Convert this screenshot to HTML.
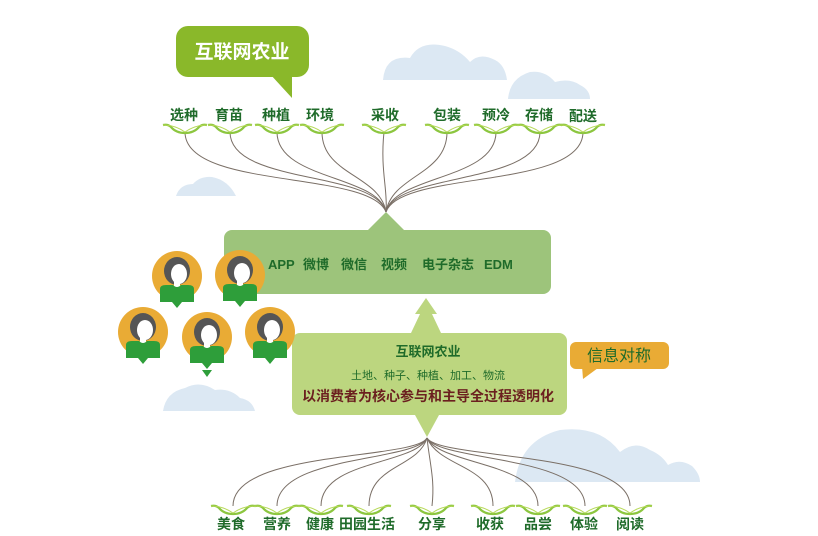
<!DOCTYPE html>
<html><head><meta charset="utf-8"><style>
html,body{margin:0;padding:0;background:#fff;width:818px;height:536px;overflow:hidden}
svg{display:block}
text{font-family:"Liberation Sans","Noto Sans CJK SC",sans-serif}
</style></head><body>
<svg width="818" height="536" viewBox="0 0 818 536" xmlns="http://www.w3.org/2000/svg">
<defs>
<g id="brace"><path d="M-22,-2 q5,-1 8,2 q5,6 14,6 q9,0 14,-6 q3,-3 8,-2" fill="none" stroke="#8cc63f" stroke-width="2.2"/><path d="M-22,-2 q12,0 22,7 q10,-7 22,-7" fill="none" stroke="#b6d957" stroke-width="1"/></g>
<clipPath id="cc"><circle r="25"/></clipPath>
<g id="av">
<circle r="25" fill="#e9ab35"/>
<ellipse cx="0" cy="-5" rx="13" ry="14" fill="#555"/>
<ellipse cx="2" cy="-2" rx="8" ry="10" fill="#fff"/>
<rect x="-3" y="5" width="6" height="7" fill="#fff"/>
<path d="M-17,26 L-17,13 Q-17,9 -11,9 L-4,9 Q0,13 4,9 L11,9 Q17,9 17,13 L17,26 L5,26 L0,32 L-5,26 Z" fill="#2e9e3a"/>
</g>
</defs>
<g fill="#dce8f3">
<path d="M383,80 Q385,55 410,58 Q420,40 445,46 Q460,50 470,62 Q480,52 495,60 Q505,65 507,80 Z"/>
<path d="M508,99 Q510,78 530,72 Q545,70 555,82 Q570,78 580,85 Q590,90 590,99 Z"/>
<path d="M176,196 Q180,184 193,184 Q200,176 212,177 Q228,180 236,196 Z"/>
<path d="M163,411 Q166,392 185,388 Q200,380 215,390 Q230,388 240,398 Q252,400 255,411 Z"/>
<path d="M515,482 Q520,440 560,430 Q600,425 620,452 Q635,440 650,450 Q662,455 668,465 Q680,458 692,466 Q700,474 700,482 Z"/>
</g>
<rect x="176" y="26" width="133" height="51" rx="12" fill="#8ab82a"/>
<path d="M270,74 L292,98 L292,74 Z" fill="#8ab82a"/>
<text x="242" y="58" font-size="19" font-weight="bold" fill="#fff" text-anchor="middle">互联网农业</text>
<g fill="none" stroke="#7a6f66" stroke-width="1">
<path d="M185,132 C185,190 370,170 386,212"/>
<path d="M230,132 C230,185 375,170 386,212"/>
<path d="M277,132 C277,180 378,175 386,212"/>
<path d="M322,132 C322,175 380,175 386,212"/>
<path d="M384,132 C380,170 388,190 386,212"/>
<path d="M447,132 C447,175 392,175 386,212"/>
<path d="M496,132 C496,180 394,175 386,212"/>
<path d="M540,132 C540,185 396,172 386,212"/>
<path d="M583,132 C583,190 400,170 386,212"/>
</g>
<g font-size="14" font-weight="bold" fill="#1f6b2a" text-anchor="middle">
<text x="184" y="120">选种</text><text x="229" y="120">育苗</text><text x="276" y="120">种植</text><text x="320" y="120">环境</text><text x="385" y="120">采收</text><text x="447" y="120">包装</text><text x="496" y="120">预冷</text><text x="539" y="120">存储</text><text x="583" y="121">配送</text>
</g>
<use href="#brace" x="185" y="127"/><use href="#brace" x="230" y="127"/><use href="#brace" x="277" y="127"/><use href="#brace" x="322" y="127"/><use href="#brace" x="384" y="127"/><use href="#brace" x="447" y="127"/><use href="#brace" x="496" y="127"/><use href="#brace" x="540" y="127"/><use href="#brace" x="583" y="127"/>
<path d="M386,212 L368,230 L404,230 Z" fill="#9dc47b"/>
<rect x="224" y="230" width="327" height="64" rx="8" fill="#9dc47b"/>
<g font-size="13" font-weight="bold" fill="#1f6b2a">
<text x="268" y="269">APP</text><text x="303" y="269">微博</text><text x="341" y="269">微信</text><text x="381" y="269">视频</text><text x="422" y="269">电子杂志</text><text x="484" y="269">EDM</text>
</g>
<path d="M426,298 L415,314 L420,314 L411,333 L441,333 L432,314 L437,314 Z" fill="#bcd67f"/>
<rect x="292" y="333" width="275" height="82" rx="8" fill="#bcd67f"/>
<path d="M415,415 L439,415 L427,437 Z" fill="#bcd67f"/>
<text x="428" y="356" font-size="13" font-weight="bold" fill="#1f6b2a" text-anchor="middle">互联网农业</text>
<text x="428" y="379" font-size="11" fill="#1f6b2a" text-anchor="middle">土地、种子、种植、加工、物流</text>
<text x="428" y="401" font-size="14" font-weight="bold" fill="#6b1f1f" text-anchor="middle">以消费者为核心参与和主导全过程透明化</text>
<rect x="570" y="342" width="99" height="27" rx="6" fill="#e9ab35"/>
<path d="M582,366 L583,379 L598,368 Z" fill="#e9ab35"/>
<text x="619" y="361" font-size="16" fill="#1f6b2a" text-anchor="middle">信息对称</text>
<use href="#av" x="177" y="276"/><use href="#av" x="240" y="275"/><use href="#av" x="143" y="332"/><use href="#av" x="207" y="337"/><use href="#av" x="270" y="332"/>
<path d="M202,370 L212,370 L207,377 Z" fill="#2e9e3a"/>
<g fill="none" stroke="#7a6f66" stroke-width="1">
<path d="M427,438 C415,460 233,450 233,506"/>
<path d="M427,438 C415,462 277,455 277,506"/>
<path d="M427,438 C415,465 321,460 321,506"/>
<path d="M427,438 C418,468 369,465 369,506"/>
<path d="M427,438 C430,465 435,480 432,506"/>
<path d="M427,438 C440,468 493,465 493,506"/>
<path d="M427,438 C440,465 538,462 538,506"/>
<path d="M427,438 C440,462 585,455 585,506"/>
<path d="M427,438 C440,460 630,450 630,506"/>
</g>
<use href="#brace" x="233" y="508"/><use href="#brace" x="277" y="508"/><use href="#brace" x="321" y="508"/><use href="#brace" x="369" y="508"/><use href="#brace" x="432" y="508"/><use href="#brace" x="493" y="508"/><use href="#brace" x="538" y="508"/><use href="#brace" x="585" y="508"/><use href="#brace" x="630" y="508"/>
<g font-size="14" font-weight="bold" fill="#1f6b2a" text-anchor="middle">
<text x="231" y="529">美食</text><text x="277" y="529">营养</text><text x="320" y="529">健康</text><text x="367" y="529">田园生活</text><text x="432" y="529">分享</text><text x="490" y="529">收获</text><text x="538" y="529">品尝</text><text x="584" y="529">体验</text><text x="630" y="529">阅读</text>
</g>
</svg>
</body></html>
